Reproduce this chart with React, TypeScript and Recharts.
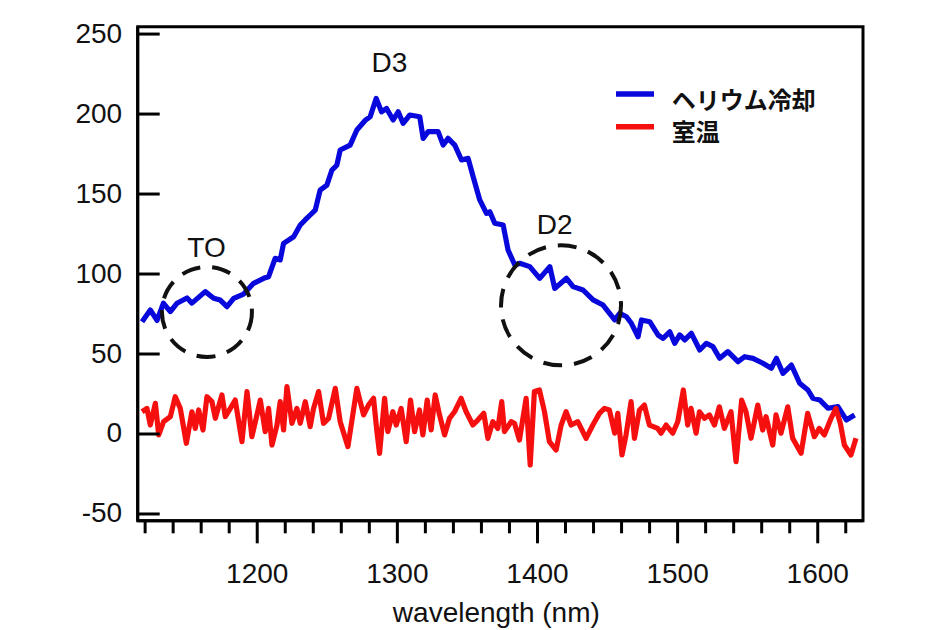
import React from 'react';
import { LineChart, Line, XAxis, YAxis, ReferenceArea, ReferenceDot, Legend, Label } from 'recharts';

// ---- data ----
const seriesNames = ['ヘリウム冷却', '室温'];

const blueX = [
  1117.8, 1123.7, 1128.5, 1133.0, 1138.0, 1142.7, 1149.9, 1153.4, 1162.9, 1168.9,
  1173.6, 1178.4, 1183.2, 1190.3, 1197.4, 1204.6, 1208.1, 1212.8, 1216.4, 1218.8,
  1226.0, 1230.7, 1234.2, 1237.8, 1241.4, 1244.9, 1249.7, 1253.3, 1256.8, 1259.2,
  1266.3, 1271.1, 1277.0, 1280.6, 1284.9, 1288.7, 1292.3, 1297.0, 1300.6, 1304.1,
  1308.9, 1316.0, 1318.4, 1322.0, 1329.1, 1332.7, 1336.2, 1341.0, 1345.8, 1350.5,
  1354.1, 1358.8, 1363.6, 1366.0, 1369.5, 1375.5, 1379.0, 1383.8, 1387.4, 1394.5,
  1401.6, 1408.8, 1412.3, 1420.7, 1425.4, 1432.5, 1439.7, 1446.8, 1455.1, 1458.7,
  1463.5, 1467.0, 1471.8, 1474.2, 1480.1, 1486.0, 1489.6, 1494.4, 1497.9, 1501.5,
  1505.1, 1509.8, 1515.8, 1520.5, 1525.2, 1530.0, 1535.9, 1543.1, 1547.8, 1553.8,
  1560.9, 1566.9, 1570.5, 1575.2, 1581.2, 1587.1, 1593.0, 1596.6, 1601.4, 1607.3,
  1614.4, 1620.4, 1626.3,
];
const blueY = [
  70.2, 77.5, 71.0, 81.7, 76.5, 81.7, 85.0, 81.8, 89.0, 84.8,
  83.7, 79.6, 84.8, 87.5, 94.2, 97.3, 98.3, 109.8, 108.8, 119.2,
  123.3, 130.6, 133.8, 136.9, 140.0, 152.5, 155.6, 165.0, 168.0, 177.5,
  180.6, 190.0, 196.0, 198.3, 209.8, 201.4, 203.5, 196.3, 201.4, 194.2,
  199.4, 198.3, 184.8, 189.0, 189.0, 180.6, 184.8, 180.6, 171.3, 172.3,
  160.8, 146.3, 137.9, 138.9, 131.7, 130.6, 115.0, 105.6, 106.7, 104.6,
  97.3, 104.6, 91.0, 97.3, 92.1, 90.0, 83.8, 80.6, 71.3, 75.4,
  73.3, 69.2, 60.8, 71.3, 70.2, 61.9, 59.8, 63.9, 56.7, 61.9,
  58.8, 62.9, 52.5, 56.7, 54.6, 47.3, 51.5, 45.2, 48.3, 47.3,
  44.2, 41.1, 47.3, 37.9, 43.1, 31.7, 27.5, 22.3, 21.3, 16.1,
  17.1, 8.8, 11.9,
];

const redX = [
  1117.8, 1121.3, 1123.7, 1127.3, 1129.7, 1133.2, 1138.0, 1141.5, 1145.1, 1149.4,
  1153.4, 1155.8, 1158.2, 1161.3, 1164.1, 1167.7, 1170.1, 1174.8, 1177.2, 1180.8,
  1184.3, 1189.1, 1192.7, 1196.2, 1202.2, 1205.7, 1208.1, 1210.5, 1214.1, 1216.4,
  1218.8, 1221.2, 1224.8, 1228.3, 1230.7, 1234.3, 1237.8, 1240.2, 1243.8, 1247.3,
  1250.9, 1255.7, 1259.2, 1264.7, 1271.1, 1275.9, 1279.4, 1283.0, 1285.4, 1287.3,
  1290.9, 1293.2, 1296.8, 1299.2, 1302.7, 1306.3, 1309.4, 1312.3, 1315.8, 1318.2,
  1321.3, 1324.1, 1327.0, 1330.1, 1333.7, 1337.2, 1340.8, 1345.5, 1349.1, 1353.9,
  1357.4, 1361.7, 1364.6, 1368.1, 1371.7, 1374.5, 1376.4, 1381.2, 1383.6, 1387.1,
  1391.9, 1394.8, 1397.8, 1401.4, 1405.0, 1408.5, 1413.3, 1416.9, 1420.4, 1424.0,
  1428.8, 1434.7, 1439.5, 1444.2, 1447.8, 1451.3, 1455.1, 1457.3, 1460.3, 1463.2,
  1466.8, 1469.2, 1472.8, 1476.3, 1479.9, 1485.8, 1488.2, 1491.8, 1496.5, 1500.1,
  1504.1, 1507.2, 1509.6, 1513.2, 1515.6, 1519.1, 1522.7, 1526.3, 1529.8, 1533.4,
  1538.1, 1541.7, 1545.7, 1548.8, 1552.4, 1557.2, 1560.7, 1563.1, 1567.9, 1570.2,
  1573.8, 1578.6, 1582.1, 1588.1, 1592.8, 1597.6, 1601.1, 1604.7, 1609.5, 1613.0,
  1616.1, 1619.0, 1623.7, 1627.3,
];
const redY = [
  13.9, 16.0, 5.6, 19.2, -0.6, 7.7, 10.8, 23.3, 16.0, -5.8,
  13.9, 3.5, 15.0, 2.5, 23.3, 20.2, 9.8, 24.4, 10.8, 16.0,
  21.2, -4.8, 26.5, -1.7, 21.2, 1.5, 16.0, -6.9, 5.6, 20.2,
  2.5, 29.6, 6.7, 16.0, 6.7, 20.2, 4.6, 16.0, 26.5, 6.7,
  9.8, 28.5, 7.7, -7.9, 28.5, 11.9, 18.1, 22.3, 1.5, -12.1,
  22.3, 1.5, 13.9, 5.6, 16.0, -4.8, 21.2, 1.5, 15.0, -0.6,
  21.2, 2.5, 24.4, 11.9, -0.6, 9.8, 13.9, 22.3, 13.9, 5.6,
  8.7, 12.9, -2.7, 7.7, 3.5, 20.2, 1.5, 7.7, 6.7, -3.8,
  22.3, -19.4, 26.5, 27.5, 13.9, -4.8, -10.0, 5.6, 13.9, 5.6,
  7.7, -2.7, 5.6, 12.9, 16.0, 15.0, 0.5, 12.9, -13.1, -0.6,
  20.2, -2.7, 15.0, 18.1, 5.6, 3.5, 0.5, 5.6, 0.5, 7.7,
  27.5, 5.6, 16.0, 0.5, 13.9, 9.8, 11.9, 5.6, 17.0, 3.5,
  13.9, -17.3, 21.2, 13.9, -2.7, 18.1, 2.5, 10.8, -6.9, 11.9,
  0.5, 17.0, -2.7, -12.1, 12.9, -1.7, 3.5, -0.6, 9.8, 16.0,
  6.7, -6.9, -13.1, -2.7,
];

const xTicks = [
  1120, 1140, 1160, 1180, 1200, 1220, 1240, 1260, 1280, 1300, 1320, 1340, 1360,
  1380, 1400, 1420, 1440, 1460, 1480, 1500, 1520, 1540, 1560, 1580, 1600, 1620,
];
const yTicks = [-50, 0, 50, 100, 150, 200, 250];
const xDomain = [1114.7, 1632.3];
const yDomain = [-54.2, 254.6];
const xTitle = 'wavelength (nm)';

const peakLabels = ['D3', 'TO', 'D2'];
const peakLabelX = [1294.4, 1163.8, 1412.3];
const peakLabelY = [226.4, 110.8, 125.0];

const circleX = [1164.1, 1416.8];
const circleY = [76.3, 80.4];
const circleR = [45, 60];

// ---- build ----
const blueData = blueX.map((x, i) => ({ x, y: blueY[i] }));
const redData = redX.map((x, i) => ({ x, y: redY[i] }));

const FONT = '"Liberation Sans", Arial, sans-serif';
const CJK = '"Noto Sans CJK JP", "Noto Sans", sans-serif';

const XTick = (props: any) => {
  const { x, y, payload } = props;
  const v = payload.value;
  const major = v % 100 === 0;
  return (
    <g>
      <line x1={x} x2={x} y1={y} y2={y + (major ? 22.6 : 12.6)} stroke="#000" strokeWidth={3} />
      {major && (
        <text x={x} y={y + 62} textAnchor="middle" fontSize={28} fontFamily={FONT} fill="#111">
          {v}
        </text>
      )}
    </g>
  );
};

const YTick = (props: any) => {
  const { x, y, payload } = props;
  return (
    <g>
      <line x1={x} x2={x + 22} y1={y} y2={y} stroke="#000" strokeWidth={3} />
      <text x={x - 15.5} y={y + 8.5} textAnchor="end" fontSize={28} fontFamily={FONT} fill="#111">
        {payload.value}
      </text>
    </g>
  );
};

const LegendContent = (props: any) => {
  const payload = props.payload || [];
  return (
    <svg width={240} height={72} style={{ display: 'block', overflow: 'visible' }}>
      {payload.map((p: any, i: number) => (
        <g key={i}>
          <line x1={8} x2={46} y1={14 + i * 32.7} y2={14 + i * 32.7} stroke={p.color} strokeWidth={5.5} />
          <text x={63.7} y={29 + i * 32} fontSize={24} fontWeight={700} fontFamily={CJK} fill="#111">
            {p.value}
          </text>
        </g>
      ))}
    </svg>
  );
};

const AxisTitle = (props: any) => {
  const vb = props.viewBox || {};
  return (
    <text x={vb.x + vb.width / 2 - 4} y={vb.y + 100.8} textAnchor="middle" fontSize={28} fontFamily={FONT} fill="#111">
      {xTitle}
    </text>
  );
};

export default function App() {
  return (
    <div style={{ width: 929, height: 630, padding: '8px 0 0 8px', boxSizing: 'border-box', overflow: 'hidden' }}>
      <style>{'html, body { margin: 0; padding: 0; overflow: hidden; } .recharts-wrapper, .recharts-surface { overflow: visible !important; }'}</style>
      <LineChart
        width={913}
        height={622}
        margin={{ top: 18.7, right: 58, left: 49.7, bottom: 21.3 }}
      >
        <XAxis
          dataKey="x"
          type="number"
          domain={xDomain}
          allowDataOverflow
          ticks={xTicks}
          interval={0}
          tickSize={0}
          tickMargin={0}
          tickLine={false}
          tick={<XTick />}
          axisLine={{ stroke: '#000', strokeWidth: 3 }}
          height={88}
        >
          <Label content={<AxisTitle />} />
        </XAxis>
        <YAxis
          type="number"
          domain={yDomain}
          allowDataOverflow
          ticks={yTicks}
          interval={0}
          tickSize={0}
          tickMargin={0}
          tickLine={false}
          tick={<YTick />}
          axisLine={{ stroke: '#000', strokeWidth: 3 }}
          width={80}
        />
        <ReferenceArea
          x1={xDomain[0]}
          x2={xDomain[1]}
          y1={yDomain[0]}
          y2={yDomain[1]}
          fill="none"
          fillOpacity={0}
          stroke="#000"
          strokeWidth={3}
          strokeOpacity={1}
          ifOverflow="extendDomain"
        />
        <Line
          data={blueData}
          dataKey="y"
          name={seriesNames[0]}
          type="linear"
          stroke="#0808dc"
          strokeWidth={5.2}
          strokeLinejoin="round"
          dot={false}
          activeDot={false}
          isAnimationActive={false}
        />
        <Line
          data={redData}
          dataKey="y"
          name={seriesNames[1]}
          type="linear"
          stroke="#f50f0f"
          strokeWidth={5.2}
          strokeLinejoin="round"
          dot={false}
          activeDot={false}
          isAnimationActive={false}
        />
        {circleX.map((cx, i) => (
          <ReferenceDot
            key={'c' + i}
            x={cx}
            y={circleY[i]}
            r={circleR[i]}
            fill="none"
            stroke="#111"
            strokeWidth={4}
            strokeDasharray="19 12"
          />
        ))}
        {peakLabels.map((lab, i) => (
          <ReferenceDot
            key={'l' + i}
            x={peakLabelX[i]}
            y={peakLabelY[i]}
            r={0}
            shape={(p: any) => (
              <text x={p.cx} y={p.cy} textAnchor="middle" fontSize={28} fontFamily={FONT} fill="#111">
                {lab}
              </text>
            )}
          />
        ))}
        <Legend
          layout="vertical"
          align="center"
          verticalAlign="middle"
          content={<LegendContent />}
          wrapperStyle={{ left: 600, top: 72, width: 240, height: 72 }}
        />
      </LineChart>
    </div>
  );
}
